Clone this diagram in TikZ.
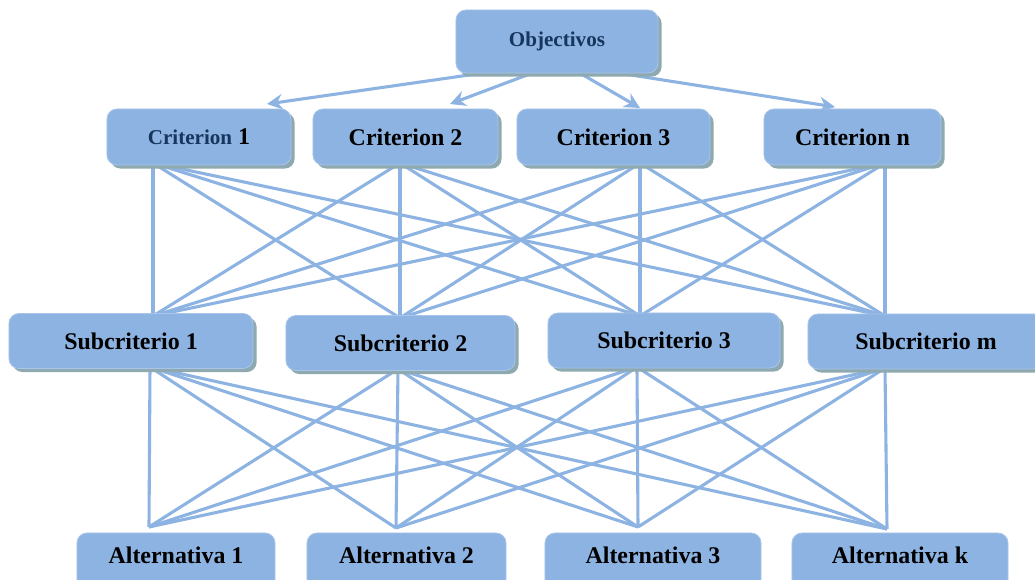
\documentclass[tikz,border=0pt]{standalone}
\usepackage{fontspec}
\setmainfont{Liberation Serif}
\usetikzlibrary{shadows,arrows.meta}

\definecolor{boxblue}{HTML}{8DB3E2}
\definecolor{edgeblue}{HTML}{A9C5EA}
\definecolor{shadowgray}{HTML}{8FA9B0}
\definecolor{titleblue}{HTML}{17365D}

\begin{document}
\begin{tikzpicture}[
    x=0.025cm,
    y=-0.025cm,
    box/.style={rectangle, rounded corners=0.25cm, draw=edgeblue, line width=0.6pt, fill=boxblue, inner sep=0pt, align=center, font=\bfseries\fontsize{17}{20}\selectfont},
    shadowbox/.style={box, drop shadow={shadow xshift=0.09cm, shadow yshift=-0.09cm, fill=shadowgray, opacity=1}},
    goal/.style={shadowbox, minimum width=5.05cm, minimum height=1.575cm, text=titleblue, font=\bfseries\fontsize{15}{18}\selectfont},
    criterion/.style={shadowbox, minimum height=1.4cm},
    subcriterion/.style={shadowbox, minimum height=1.375cm},
    alternative/.style={box, minimum height=1.4cm, text depth=0.3cm},
    link/.style={draw=boxblue, line width=2.2pt},
    arrow/.style={link, -{Stealth[length=11pt, width=11pt]}}
]
\useasboundingbox (0,0) rectangle (1035,580);

% Connection points
\coordinate (o1) at (490,72);
\coordinate (o2) at (535,72);
\coordinate (o3) at (578,72);
\coordinate (o4) at (612,72);
\coordinate (c1in) at (267,104);
\coordinate (c2in) at (450,104);
\coordinate (c3in) at (640,108);
\coordinate (cnin) at (835,107);

\coordinate (c1out) at (153,163);
\coordinate (c2out) at (400,163);
\coordinate (c3out) at (640,163);
\coordinate (cnout) at (885,163);
\coordinate (s1in) at (153,316);
\coordinate (s2in) at (400,318);
\coordinate (s3in) at (640,316);
\coordinate (smin) at (885,316);

\coordinate (s1out) at (150,367);
\coordinate (s2out) at (398,369);
\coordinate (s3out) at (637,367);
\coordinate (smout) at (885,368);
\coordinate (a1in) at (149,527);
\coordinate (a2in) at (396,528);
\coordinate (a3in) at (638,527);
\coordinate (akin) at (887,529);

% Objectives to criteria
\draw[arrow] (o1) -- (c1in);
\draw[arrow] (o2) -- (c2in);
\draw[arrow] (o3) -- (c3in);
\draw[arrow] (o4) -- (cnin);

% Criteria to subcriteria
\draw[link] (c1out) -- (s1in);
\draw[link] (c1out) -- (s2in);
\draw[link] (c1out) -- (s3in);
\draw[link] (c1out) -- (smin);
\draw[link] (c2out) -- (s1in);
\draw[link] (c2out) -- (s2in);
\draw[link] (c2out) -- (s3in);
\draw[link] (c2out) -- (smin);
\draw[link] (c3out) -- (s1in);
\draw[link] (c3out) -- (s2in);
\draw[link] (c3out) -- (s3in);
\draw[link] (c3out) -- (smin);
\draw[link] (cnout) -- (s1in);
\draw[link] (cnout) -- (s2in);
\draw[link] (cnout) -- (s3in);
\draw[link] (cnout) -- (smin);

% Subcriteria to alternatives
\draw[link] (s1out) -- (a1in);
\draw[link] (s1out) -- (a2in);
\draw[link] (s1out) -- (a3in);
\draw[link] (s1out) -- (akin);
\draw[link] (s2out) -- (a1in);
\draw[link] (s2out) -- (a2in);
\draw[link] (s2out) -- (a3in);
\draw[link] (s2out) -- (akin);
\draw[link] (s3out) -- (a1in);
\draw[link] (s3out) -- (a2in);
\draw[link] (s3out) -- (a3in);
\draw[link] (s3out) -- (akin);
\draw[link] (smout) -- (a1in);
\draw[link] (smout) -- (a2in);
\draw[link] (smout) -- (a3in);
\draw[link] (smout) -- (akin);

% Goal
\node[goal] (goal) at (557,41.5) {Objectivos};

% Criteria
\node[criterion, minimum width=4.6cm] (crit1) at (199,137) {{\color{titleblue}\fontsize{15}{18}\selectfont Criterion} 1};
\node[criterion, minimum width=4.625cm] (crit2) at (405.5,137) {Criterion 2};
\node[criterion, minimum width=4.825cm] (crit3) at (613.5,137) {Criterion 3};
\node[criterion, minimum width=4.425cm] (critn) at (852.5,137) {Criterion n};

% Subcriteria
\node[subcriterion, minimum width=6.1cm] (sub1) at (131,341) {Subcriterio 1};
\node[subcriterion, minimum width=5.725cm] (sub2) at (400.5,343) {Subcriterio 2};
\node[subcriterion, minimum width=5.8cm] (sub3) at (664,340.5) {Subcriterio 3};
\node[subcriterion, minimum width=5.9cm] (subm) at (926,341.5) {Subcriterio m};

% Alternatives
\node[alternative, minimum width=4.95cm] (alt1) at (176,561) {Alternativa 1};
\node[alternative, minimum width=4.975cm] (alt2) at (406.5,561) {Alternativa 2};
\node[alternative, minimum width=5.4cm] (alt3) at (653,561) {Alternativa 3};
\node[alternative, minimum width=5.4cm] (altk) at (900,561) {Alternativa k};

\end{tikzpicture}
\end{document}
